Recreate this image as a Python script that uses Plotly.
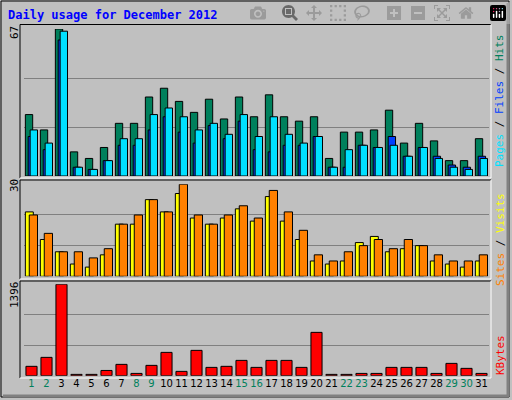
import plotly.graph_objects as go

days = list(range(1, 32))
hits = [28, 21, 67, 11, 8, 13, 24, 24, 36, 40, 34, 29, 35, 26, 36, 27, 37, 27, 25, 27, 8, 20, 20, 21, 30, 15, 24, 16, 7, 7, 17]
files = [21, 15, 66, 4, 3, 7, 17, 17, 28, 31, 27, 21, 24, 19, 28, 18, 27, 19, 15, 18, 4, 12, 14, 13, 14, 9, 13, 8, 4, 3, 8]
pages = [18, 12, 62, 4, 3, 7, 14, 14, 21, 27, 20, 15, 23, 17, 25, 12, 11, 14, 14, 18, 4, 4, 14, 13, 18, 9, 13, 9, 5, 4, 9]
visits = [21, 12, 8, 4, 3, 7, 17, 17, 25, 21, 27, 19, 17, 19, 22, 18, 26, 18, 12, 5, 4, 5, 11, 13, 8, 9, 10, 5, 4, 3, 5]
sites = [20, 14, 8, 8, 6, 9, 17, 20, 25, 21, 30, 20, 17, 20, 23, 19, 28, 21, 15, 7, 5, 8, 10, 12, 9, 12, 10, 7, 5, 5, 7]
kbytes = [143, 280, 1396, 20, 20, 80, 173, 35, 158, 356, 66, 387, 127, 143, 234, 127, 234, 234, 127, 662, 20, 20, 35, 35, 127, 127, 127, 35, 188, 112, 35]
weekends = [1, 2, 8, 9, 15, 16, 22, 23, 29, 30]

W, H = 512, 400
def px(x): return x / W
def py(y): return 1 - y / H

ticktext = [f"<span style='color:#00805C'>{d}</span>" if d in weekends else str(d) for d in days]

fig = go.Figure()
line = dict(color="black", width=1)
def bar(y, color, off, wid, yaxis):
    fig.add_trace(go.Bar(x=days, y=y, marker=dict(color=color, line=line),
                         offset=off, width=wid, xaxis="x", yaxis=yaxis, hoverinfo="x+y"))

bar(hits, "#00805C", -0.41, 0.49, "y")
bar(pages, "#0040FF", -0.22, 0.49, "y")
bar(files, "#00E0FF", -0.09, 0.49, "y")
bar(visits, "#FFFF00", -0.41, 0.53, "y2")
bar(sites, "#FF8000", -0.15, 0.55, "y3")
bar(kbytes, "#FF0000", -0.37, 0.74, "y4")

grid = dict(showgrid=True, gridcolor="#808080", gridwidth=1, showticklabels=False,
            ticks="", zeroline=False, showline=False)
fig.update_layout(
    width=W, height=H, margin=dict(l=0, r=0, t=0, b=0),
    paper_bgcolor="#C0C0C0", plot_bgcolor="rgba(0,0,0,0)",
    showlegend=False, barmode="overlay",
    font=dict(family="DejaVu Sans Mono", size=11, color="black"),
    xaxis=dict(domain=[px(24), px(489)], range=[0.5, 31.5], anchor="y4",
               tickvals=days, ticktext=ticktext, ticks="", showgrid=False, tickangle=0,
               zeroline=False, tickfont=dict(size=10, family="DejaVu Sans")),
    yaxis=dict(domain=[py(176), py(29)], range=[0, 67], tickvals=[67/3, 134/3], anchor="x", **grid),
    yaxis2=dict(domain=[py(276.3), py(184.3)], range=[0, 30], tickvals=[10, 20], anchor="x", **grid),
    yaxis3=dict(domain=[py(276.3), py(184.3)], range=[0, 30], overlaying="y2", anchor="x",
                showgrid=False, showticklabels=False, zeroline=False),
    yaxis4=dict(domain=[py(375.7), py(284.3)], range=[0, 1396], tickvals=[1396/3, 2792/3], anchor="x", **grid),
)

shapes = [dict(type="rect", xref="paper", yref="paper", x0=px(1), x1=px(509), y0=py(397), y1=py(1),
               line=dict(color="black", width=1))]
shapes += [dict(type="line", xref="paper", yref="paper", x0=px(3), x1=px(509), y0=py(396), y1=py(396),
                line=dict(color="#808080", width=3)),
           dict(type="line", xref="paper", yref="paper", x0=px(508), x1=px(508), y0=py(3), y1=py(396),
                line=dict(color="#808080", width=3))]
for top, bot in [(24.5, 178), (180, 279), (281, 378)]:
    shapes.append(dict(type="line", xref="paper", yref="paper", x0=px(20), x1=px(491), y0=py(top), y1=py(top), line=dict(color="black", width=1)))
    shapes.append(dict(type="line", xref="paper", yref="paper", x0=px(20), x1=px(20), y0=py(top), y1=py(bot), line=dict(color="black", width=1)))
    shapes.append(dict(type="line", xref="paper", yref="paper", x0=px(20), x1=px(491), y0=py(bot), y1=py(bot), line=dict(color="white", width=1)))
    shapes.append(dict(type="line", xref="paper", yref="paper", x0=px(491), x1=px(491), y0=py(top), y1=py(bot), line=dict(color="white", width=1)))
fig.update_layout(shapes=shapes)

def ann(text, x, y, angle=0, color="black", anchor="center", size=11):
    fig.add_annotation(text=text, x=px(x), y=py(y), xref="paper", yref="paper", showarrow=False,
                       textangle=angle, font=dict(color=color, size=size),
                       xanchor=anchor, yanchor="middle")

ann("<b>Daily usage for December 2012</b>", 6, 15, color="#0000FF", anchor="left", size=12)
ann("67", 14, 33, -90)
ann("30", 14, 186, -90)
ann("1396", 14, 295, -90)
ann("<span style='color:#00E0FF'>Pages</span> / <span style='color:#0040FF'>Files</span> / <span style='color:#00805C'>Hits</span>",
    500, 101, -90)
ann("<span style='color:#FF8000'>Sites</span> / <span style='color:#FFFF00'>Visits</span>", 500, 240, -90)
ann("KBytes", 500, 355, -90, color="#FF0000")

fig.write_html("out.html", post_script="document.body.style.margin='0';")
